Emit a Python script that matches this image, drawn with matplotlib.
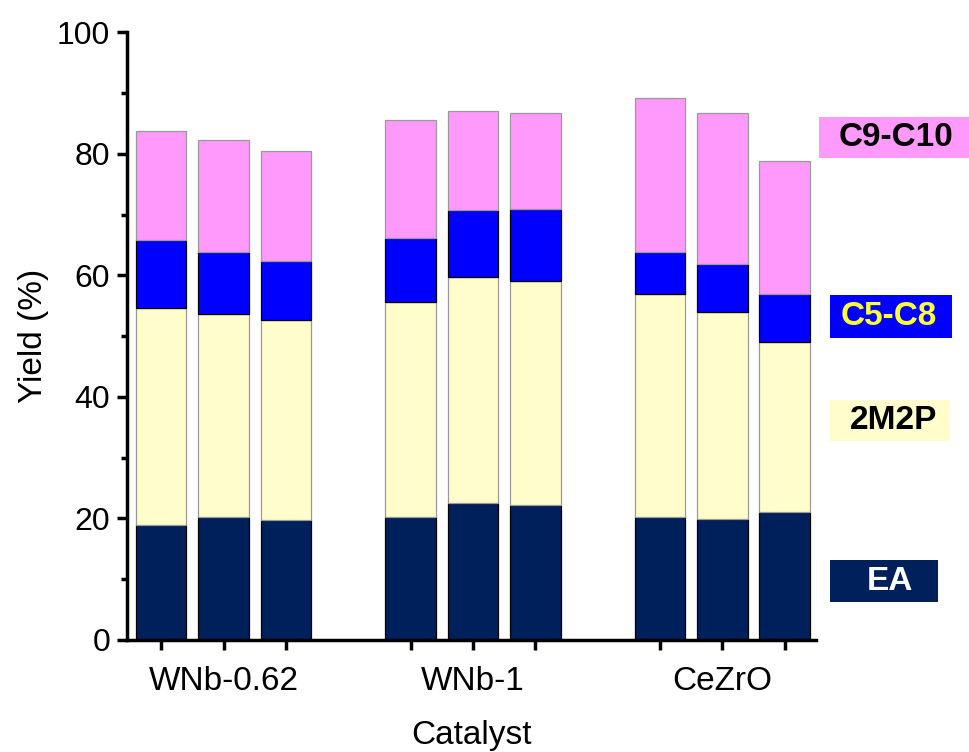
import matplotlib
matplotlib.use("Agg")
import matplotlib.pyplot as plt
from matplotlib.patches import Rectangle
from matplotlib.ticker import MultipleLocator

plt.rcParams['font.family'] = ['Liberation Sans', 'DejaVu Sans']

groups = ["WNb-0.62", "WNb-1", "CeZrO"]
pos = [0, 1, 2, 4, 5, 6, 8, 9, 10]

# segment heights (%) for the nine bars
ea   = [18.9, 20.2, 19.8, 20.2, 22.6, 22.2, 20.2, 19.9, 21.0]
m2p  = [35.8, 33.4, 32.9, 35.5, 37.1, 36.8, 36.8, 34.1, 28.0]
c58  = [11.2, 10.3,  9.7, 10.5, 11.0, 11.9,  6.8,  7.8,  8.0]
c910 = [17.8, 18.3, 18.0, 19.3, 16.4, 15.8, 25.4, 24.9, 21.8]

names = ["EA", "2M2P", "C5-C8", "C9-C10"]
colors = ["#00205B", "#FFFDCC", "#0000FF", "#FF99FB"]
edges = ["black", "#9a9a9a", "black", "#9a9a9a"]
txtcol = ["white", "black", "#FFFF33", "black"]

fig = plt.figure(figsize=(9.69, 7.52), dpi=100)
ax = fig.add_axes([0.131, 0.149, 0.711, 0.808])

bottom = [0.0] * len(pos)
for vals, c, ec in zip([ea, m2p, c58, c910], colors, edges):
    ax.bar(pos, vals, width=0.81, bottom=bottom, color=c, edgecolor=ec, linewidth=0.9)
    bottom = [b + v for b, v in zip(bottom, vals)]

ax.set_xlim(-0.55, 10.5)
ax.set_ylim(0, 100)
ax.set_xticks(pos)
ax.set_xticklabels(["", groups[0], "", "", groups[1], "", "", groups[2], ""], fontsize=24)
ax.yaxis.set_major_locator(MultipleLocator(20))
ax.yaxis.set_minor_locator(MultipleLocator(10))
ax.tick_params(axis='y', labelsize=23, width=2.5, length=7, direction='out', pad=5)
ax.tick_params(axis='y', which='minor', width=2.5, length=4.5)
ax.tick_params(axis='x', width=2.5, length=7, direction='out', pad=12)
for s in ['top', 'right']:
    ax.spines[s].set_visible(False)
for s in ['left', 'bottom']:
    ax.spines[s].set_linewidth(2.5)

ax.set_xlabel("Catalyst", fontsize=24, labelpad=16)
ax.set_ylabel("Yield (%)", fontsize=24, labelpad=6)

# label boxes on the right: box and text centre in pixels
W, H = 969.0, 752.0
boxes = {
    "C9-C10": ((819, 117, 969, 158), 896),
    "C5-C8": ((830, 295, 952, 338), 889),
    "2M2P": ((830, 400, 950, 441), 894),
    "EA": ((830, 560, 938, 602), 890),
}
for n, c, tc in zip(names, colors, txtcol):
    (x0, y0, x1, y1), tx = boxes[n]
    fig.add_artist(Rectangle((x0 / W, 1 - y1 / H), (x1 - x0) / W, (y1 - y0) / H,
                             transform=fig.transFigure, facecolor=c, edgecolor='none'))
    fig.text(tx / W, 1 - (y0 + y1) / 2 / H, n, color=tc,
             fontsize=24, fontweight='bold', ha='center', va='center')

fig.savefig("out.png", dpi=100)
